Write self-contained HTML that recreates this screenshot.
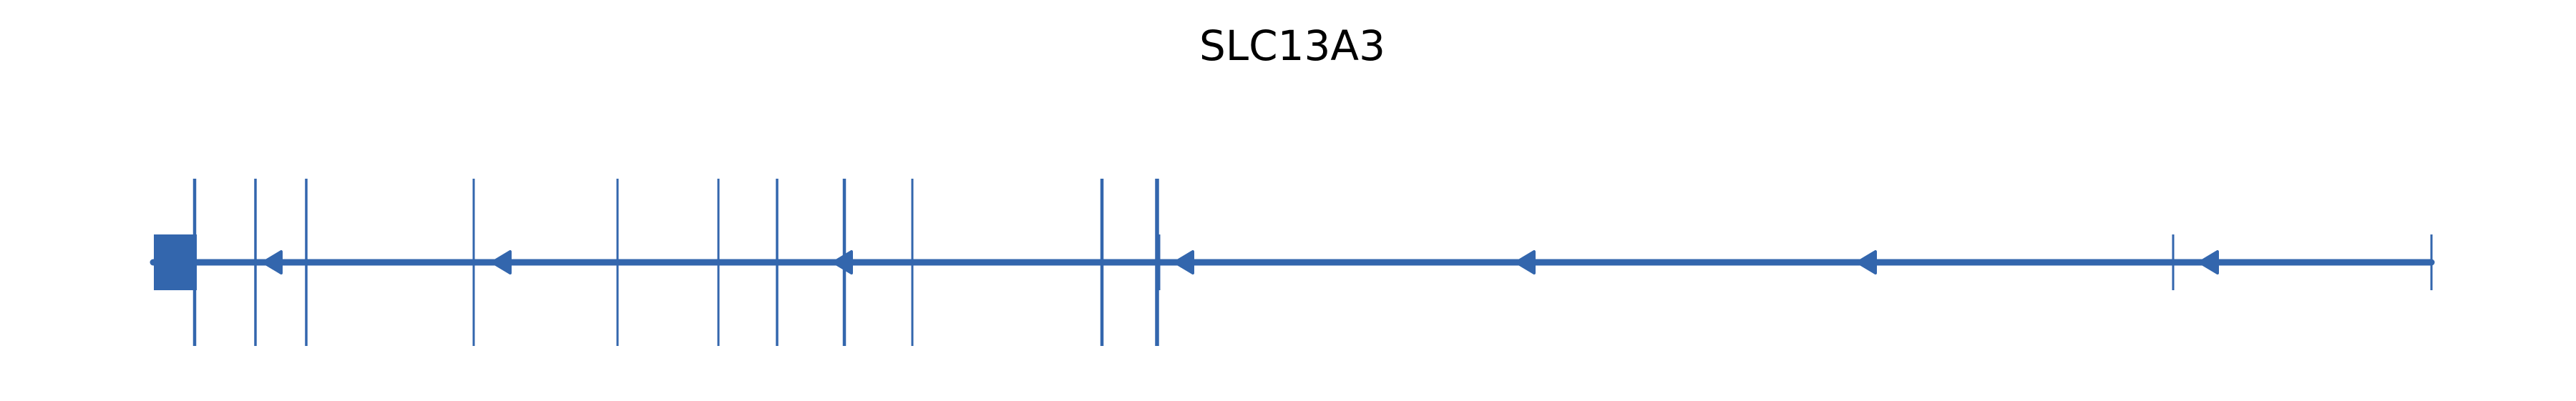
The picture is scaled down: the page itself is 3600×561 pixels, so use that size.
<!DOCTYPE html>
<html><head><meta charset="utf-8"><style>
html,body{margin:0;padding:0;background:#fff;width:3600px;height:561px;overflow:hidden}
</style></head><body>
<svg width="3600" height="561" viewBox="0 0 3600 561" xmlns="http://www.w3.org/2000/svg">
<text x="1806" y="84" text-anchor="middle" font-family="DejaVu Sans, Liberation Sans, sans-serif" font-size="58" fill="#000">SLC13A3</text>
<g stroke="#3366ad" fill="#3366ad">
<line x1="214" y1="367" x2="3398" y2="367" stroke-width="9" stroke-linecap="round"/>
<rect x="215" y="328" width="60" height="78" stroke="none"/>
<g stroke-width="3.5">
<line x1="272" y1="250" x2="272" y2="484" stroke-width="4.5"/>
<line x1="357" y1="250" x2="357" y2="484"/>
<line x1="428" y1="250" x2="428" y2="484"/>
<line x1="662" y1="250" x2="662" y2="484" stroke-width="3"/>
<line x1="863" y1="250" x2="863" y2="484" stroke-width="3"/>
<line x1="1004" y1="250" x2="1004" y2="484" stroke-width="3"/>
<line x1="1086" y1="250" x2="1086" y2="484"/>
<line x1="1180" y1="250" x2="1180" y2="484" stroke-width="4.5"/>
<line x1="1275" y1="250" x2="1275" y2="484" stroke-width="3"/>
<line x1="1540" y1="250" x2="1540" y2="484" stroke-width="4.5"/>
<line x1="1617" y1="250" x2="1617" y2="484" stroke-width="5.5"/>
<line x1="1618" y1="328" x2="1618" y2="406" stroke-width="7"/>
<line x1="3037" y1="328" x2="3037" y2="406" stroke-width="3"/>
<line x1="3398" y1="328" x2="3398" y2="406" stroke-width="3"/>
</g>
<g stroke-width="4" stroke-linejoin="round">
<polygon points="368,367 393,352 393,382"/>
<polygon points="688,367 713,352 713,382"/>
<polygon points="1165,367 1190,352 1190,382"/>
<polygon points="1642,367 1667,352 1667,382"/>
<polygon points="2119,367 2144,352 2144,382"/>
<polygon points="2596,367 2621,352 2621,382"/>
<polygon points="3074,367 3099,352 3099,382"/>
</g>
</g>
</svg>
</body></html>
